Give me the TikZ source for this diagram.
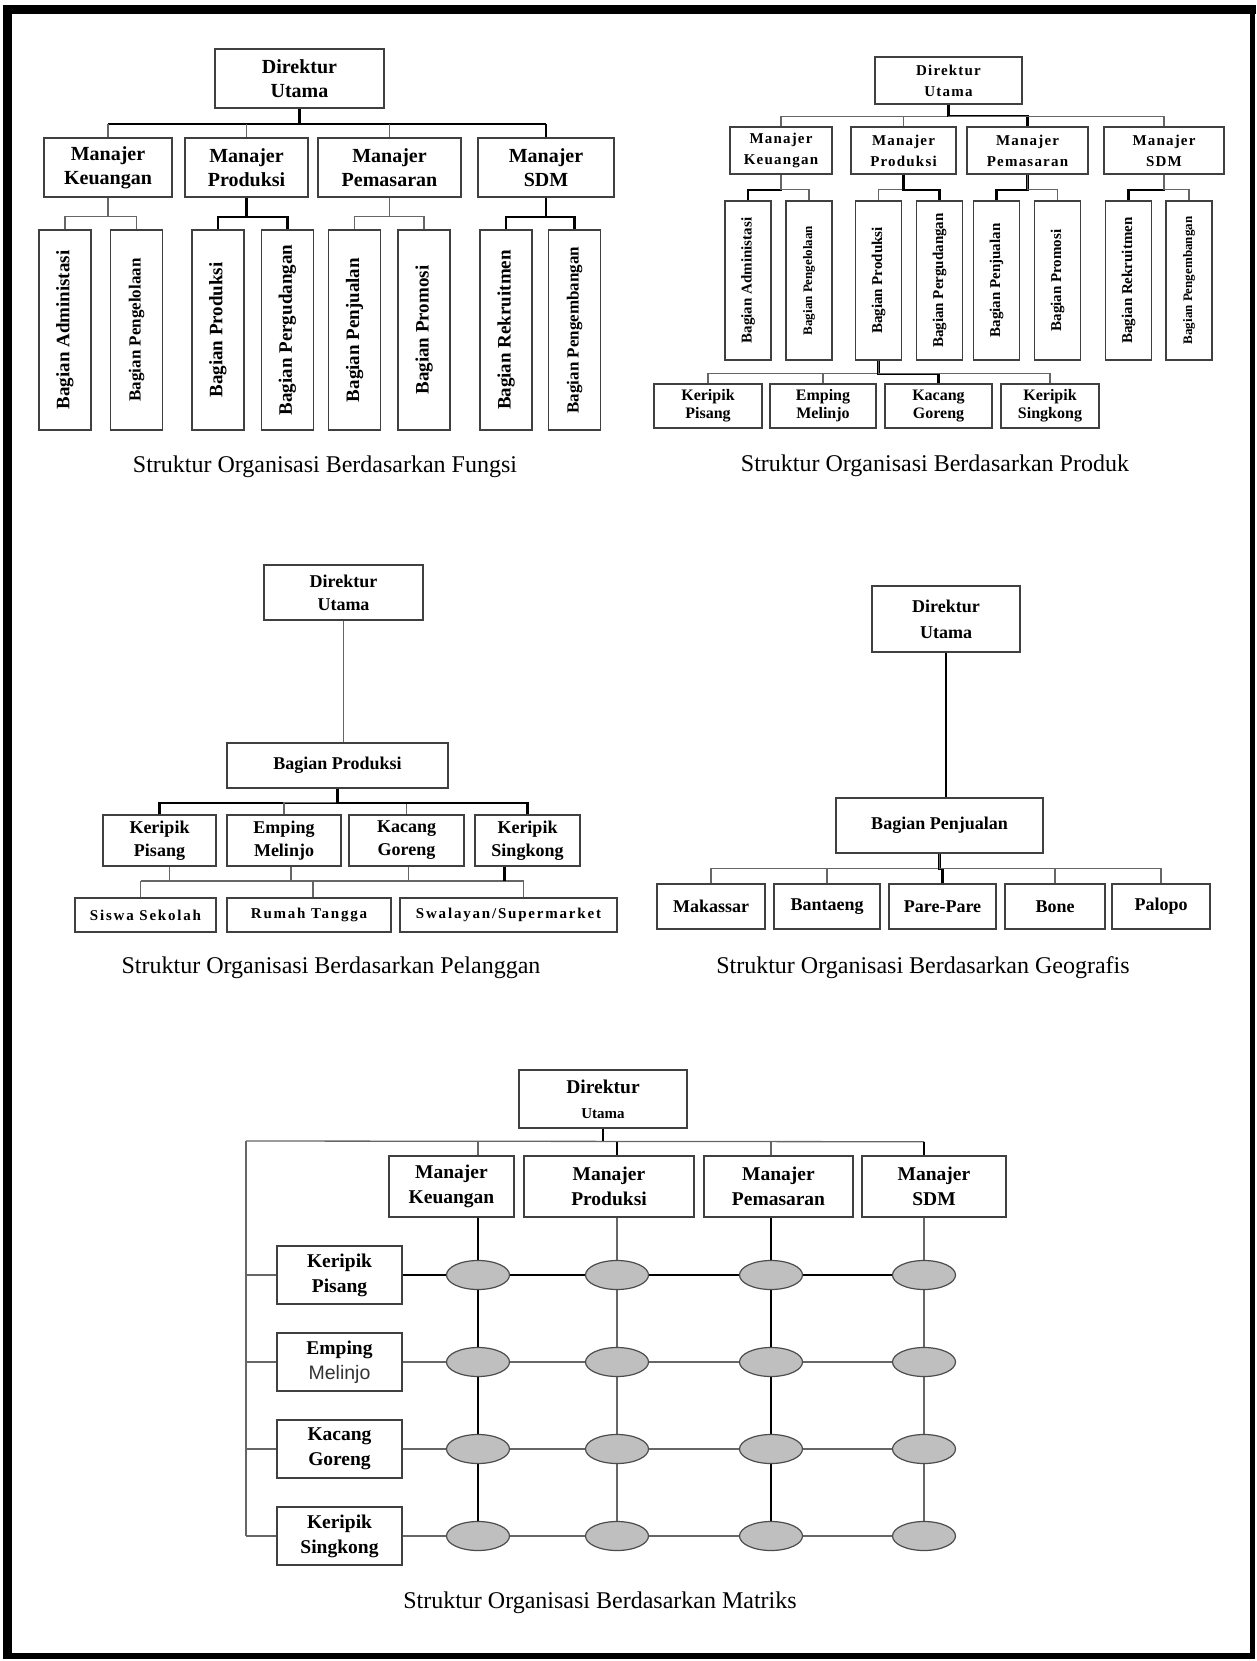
\documentclass[tikz,border=0pt]{standalone}
\usepackage{fontspec}
\setmainfont{Liberation Serif}
\newfontfamily\sansmel{Liberation Sans}
\newfontfamily\serifrenggang[LetterSpace=8]{Liberation Serif}
\newfontfamily\serifjarang[LetterSpace=12]{Liberation Serif}
\usetikzlibrary{shapes.geometric,backgrounds}

\newcommand\hurufsatu{\fontsize{20}{24}\selectfont\bfseries}
\newcommand\hurufdua{\serifrenggang\fontsize{15}{21}\selectfont\bfseries}
\newcommand\hurufproduk{\fontsize{16}{18}\selectfont\bfseries}
\newcommand\huruftiga{\fontsize{18}{23}\selectfont\bfseries}
\newcommand\hurufpelanggan{\serifjarang\fontsize{15}{17}\selectfont\bfseries}
\newcommand\hurufempat{\fontsize{18}{26}\selectfont\bfseries}
\newcommand\hurufmatriks{\fontsize{19.5}{25}\selectfont\bfseries}
\newcommand\hurufjudul{\fontsize{24}{28}\selectfont}

\begin{document}
\begin{tikzpicture}[x=1pt,y=-1pt,
  kotak/.style={draw=black!75, line width=1.5pt, fill=white, align=center, inner sep=0pt},
  tegak/.style={kotak, minimum height=200, minimum width=52},
  garis/.style={draw=black!60, line width=1.3pt},
  tebal/.style={draw=black, line width=2.2pt},
  elip/.style={ellipse, draw=black!70, fill=black!25, line width=1.2pt, minimum width=63, minimum height=29, inner sep=0pt},
  judul/.style={font=\hurufjudul}]
  \useasboundingbox (0,0) rectangle (1257,1661);
  % bingkai
  \draw[line width=9pt] (7.5,1658) -- (7.5,9.5) -- (1256,9.5);
  \draw[line width=5.5pt] (1252.5,5) -- (1252.5,1656) -- (3,1656);

  % berdasarkan fungsi
  \node[kotak, font=\hurufsatu, minimum width=169, minimum height=59] (f-dir) at (299.5,78.5) {Direktur\\Utama};
  \foreach \n/\x/\w/\t in {k/108/128/Keuangan, p/246.5/123/Produksi, m/389.5/143/Pemasaran, s/546/136/SDM}
    \node[kotak, font=\hurufsatu, minimum width=\w, minimum height=59] (f-\n) at (\x,167.5) {Manajer\\\t};
  \draw[tebal] (f-dir.south) -- ++(0,15.5) coordinate (f-bus);
  \draw[tebal] (f-bus -| f-k.north) -- (f-bus -| f-s.north);
  \foreach \n/\g in {k/garis, p/garis, m/garis, s/tebal}
    \draw[\g] (f-bus -| f-\n.north) -- (f-\n.north);
  \foreach \n/\x/\i/\t/\s/\g in {a/65/k/Administasi/19/garis, b/136.5/k/Pengelolaan/17/garis,
      c/218/p/Produksi/19/tebal, d/287.5/p/Pergudangan/19/tebal, e/354.5/m/Penjualan/19/garis,
      f/424/m/Promosi/19/garis, g/506/s/Rekruitmen/19/tebal, h/574.5/s/Pengembangan/17/tebal}{
    \node[tegak] (f-\n) at (\x,330) {\rotatebox{90}{\fontsize{\s}{\s}\selectfont\bfseries Bagian \t}};
    \draw[\g] (f-\i.south) -- ++(0,19) -| (f-\n.north);
  }
  \node[judul] (f-judul) at (325,467) {Struktur Organisasi Berdasarkan Fungsi};

  % berdasarkan produk
  \node[kotak, font=\hurufdua, minimum width=147, minimum height=47] (p-dir) at (948.5,80.5) {Direktur\\Utama};
  \foreach \n/\x/\w/\t/\g in {k/781/102/Keuangan/garis, p/903.5/105/Produksi/garis,
      m/1027.5/121/Pemasaran/tebal, s/1164/120/SDM/garis}{
    \node[kotak, font=\hurufdua, minimum width=\w, minimum height=47] (p-\n) at (\x,150.5) {Manajer\\\t};
    \draw[\g] (p-dir.south) -- ++(0,11.5) -| (p-\n.north);
  }
  \draw[tebal] (p-dir.south) -- ++(0,11.5);
  \foreach \n/\x/\i/\t/\s/\g in {a/748/k/Administasi/15/tebal, b/809/k/Pengelolaan/13/garis,
      c/878.5/p/Produksi/15/garis, d/939.5/p/Pergudangan/15/tebal, e/996.5/m/Penjualan/15/tebal,
      f/1057.5/m/Promosi/15/garis, g/1128.5/s/Rekruitmen/15/tebal, h/1189/s/Pengembangan/13/garis}{
    \node[tegak, minimum width=46, minimum height=159] (p-\n) at (\x,280.5) {\rotatebox{90}{\fontsize{\s}{\s}\selectfont\bfseries Bagian \t}};
    \draw[\g] (p-\i.south) -- ++(0,15) -| (p-\n.north);
  }
  \foreach \n/\x/\w/\a/\b/\g in {1/708/108/Keripik/Pisang/garis, 2/823/106/Emping/Melinjo/garis,
      3/938.5/107/Kacang/Goreng/tebal, 4/1050/98/Keripik/Singkong/garis}{
    \node[kotak, font=\hurufproduk, minimum width=\w, minimum height=44] (p-hasil\n) at (\x,406) {\a\\\b};
    \draw[\g] (p-c.south) -- ++(0,13) -| (p-hasil\n.north);
  }
  \node[judul] (p-judul) at (935,466) {Struktur Organisasi Berdasarkan Produk};

  % berdasarkan pelanggan
  \node[kotak, font=\huruftiga, minimum width=159, minimum height=55] (c-dir) at (343.5,592.5) {Direktur\\Utama};
  \node[kotak, font=\huruftiga, minimum width=221, minimum height=45] (c-bp) at (337.5,765.5) {Bagian Produksi};
  \draw[garis] (c-dir.south) -- (c-dir.south |- c-bp.north);
  \foreach \n/\x/\w/\a/\b/\g in {1/159.5/113/Keripik/Pisang/tebal, 2/284/114/Emping/Melinjo/garis,
      3/406.5/115/Kacang/Goreng/garis, 4/527.5/105/Keripik/Singkong/tebal}{
    \node[kotak, font=\huruftiga, minimum width=\w, minimum height=51] (c-h\n) at (\x,840.5) {\a\\\b};
    \draw[\g] (c-bp.south) -- ++(0,14) -| (c-h\n.north);
  }
  \coordinate (c-bus) at (0,881);
  \node[kotak, font=\hurufpelanggan, minimum width=141, minimum height=34] (c-u1) at (145.5,915) {Siswa Sekolah};
  \node[kotak, font=\hurufpelanggan, minimum width=164, minimum height=34] (c-u2) at (309,915) {Rumah Tangga};
  \node[kotak, font=\hurufpelanggan, minimum width=217, minimum height=34] (c-u3) at (508.5,915) {Swalayan/Supermarket};
  \draw[garis] ([xshift=-5]c-u1.north |- c-bus) -- ([xshift=15]c-u3.north |- c-bus);
  \foreach \n/\d in {1/-5, 2/4, 3/15}
    \draw[garis] ([xshift=\d]c-u\n.north |- c-bus) -- ([xshift=\d]c-u\n.north);
  \foreach \n/\d/\g in {1/10/garis, 2/7/garis, 3/2/garis, 4/-23/tebal}
    \draw[\g] ([xshift=\d]c-h\n.south) -- ([xshift=\d]c-h\n.south |- c-bus);
  \node[judul] (c-judul) at (331,968) {Struktur Organisasi Berdasarkan Pelanggan};

  % berdasarkan geografis
  \node[kotak, font=\hurufempat, minimum width=148, minimum height=66] (g-dir) at (946,619) {Direktur\\Utama};
  \node[kotak, font=\hurufempat, minimum width=207, minimum height=55] (g-bj) at (939.5,825.5) {Bagian Penjualan};
  \draw[tebal] (g-dir.south) -- (g-dir.south |- g-bj.north);
  \foreach \n/\x/\w/\t/\g in {1/711/108/Makassar/garis, 2/827/106/Bantaeng/garis, 3/942.5/107/Pare-Pare/tebal,
      4/1055/100/Bone/garis, 5/1161/98/Palopo/garis}{
    \node[kotak, font=\hurufempat, minimum width=\w, minimum height=45] (g-k\n) at (\x,906.5) {\t};
    \draw[\g] (g-bj.south) -- ++(0,15) -| (g-k\n.north);
  }
  \node[judul] (g-judul) at (923,968) {Struktur Organisasi Berdasarkan Geografis};

  % berdasarkan matriks
  \node[kotak, font=\hurufmatriks, minimum width=168, minimum height=58] (m-dir) at (603,1099) {Direktur\\{\fontsize{15}{15}\selectfont Utama}};
  \foreach \n/\x/\w/\t in {k/451.5/125/Keuangan, p/609/170/Produksi, m/778.5/149/Pemasaran, s/934/144/SDM}
    \node[kotak, font=\hurufmatriks, minimum width=\w, minimum height=61] (m-\n) at (\x,1186.5) {Manajer\\\t};
  \foreach \r/\y/\a/\b in {1/1275/Keripik/Pisang, 2/1362/Emping/{\sansmel\mdseries\color{black!80}Melinjo},
      3/1449/Kacang/Goreng, 4/1536/Keripik/Singkong}{
    \node[kotak, font=\hurufmatriks, minimum width=125, minimum height=58] (m-h\r) at (339.5,\y) {\a\\\b};
    \foreach \c/\x in {1/478, 2/617, 3/771, 4/924}
      \node[elip] (e-\r-\c) at (\x,\y) {};
  }
  \begin{scope}[on background layer]
    \draw[tebal] (m-dir.south) -- ++(0,13) coordinate (m-bus);
    \coordinate (m-kiri) at (246,1141);
    \draw[garis] (m-kiri) -- (m-bus -| e-1-4);
    \foreach \c/\n/\g in {1/k/garis, 2/p/tebal, 3/m/garis, 4/s/tebal}
      \draw[\g] (m-bus -| e-1-\c) -- (e-1-\c |- m-\n.north);
    \draw[garis] (m-kiri) -- (m-kiri |- m-h4.west);
    \foreach \r in {1,...,4}
      \draw[garis] (m-kiri |- m-h\r.west) -- (m-h\r.west);
    \foreach \r/\g in {1/tebal, 2/garis, 3/garis, 4/garis}
      \draw[\g] (m-h\r.east) -- (e-\r-4.center);
    \foreach \c/\n/\g in {1/k/tebal, 2/p/garis, 3/m/tebal, 4/s/garis}
      \draw[\g] (e-1-\c |- m-\n.south) -- (e-4-\c.center);
  \end{scope}
  \node[judul] (m-judul) at (600,1603) {Struktur Organisasi Berdasarkan Matriks};
\end{tikzpicture}
\end{document}
